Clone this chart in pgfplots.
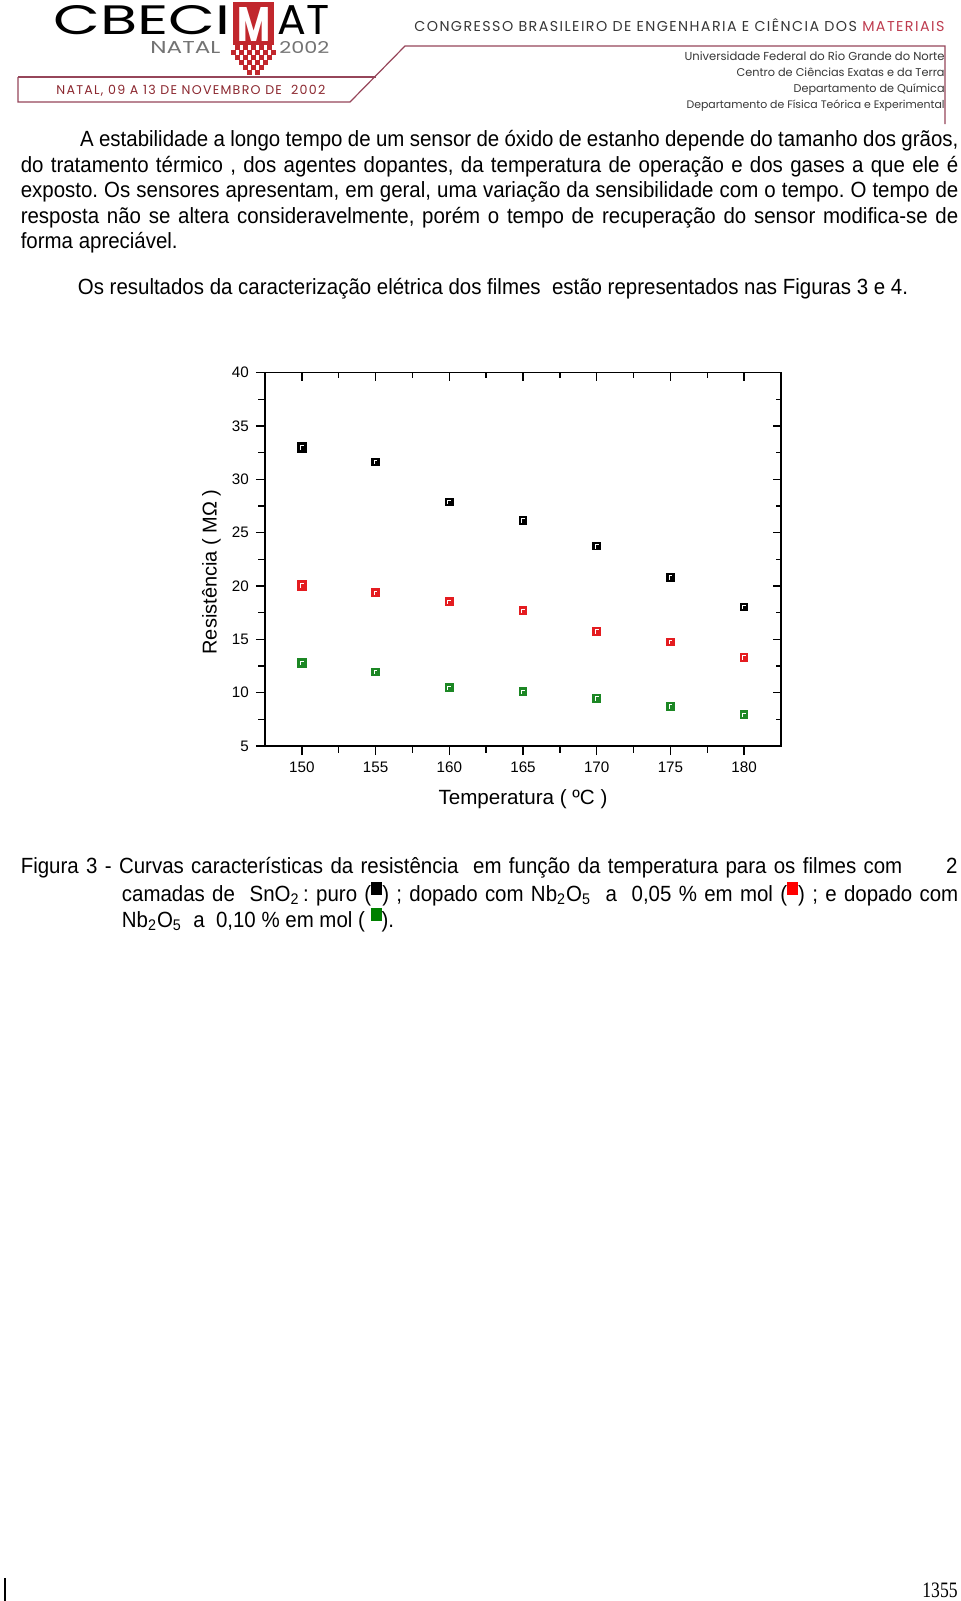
\documentclass[border=0pt]{standalone}
\usepackage{fontspec}
\usepackage{graphicx}
\usepackage{xcolor}
\usepackage{pgfplots}
\pgfplotsset{compat=1.18}
\setmainfont[FakeStretch=0.93]{Liberation Sans}
\newfontfamily\chartfont{Liberation Sans}
\newfontfamily\hdrfont{Poppins}
\newfontfamily\hdrlsp[LetterSpace=10]{Poppins}
\newfontfamily\pnfont[FakeStretch=0.8]{Liberation Serif}
\newdimen\PX \PX=0.5pt
\definecolor{logored}{RGB}{193,39,45}
\definecolor{natred}{RGB}{140,40,48}
\definecolor{matred}{RGB}{190,60,80}
\definecolor{boxline}{RGB}{150,70,90}
\definecolor{hdrgray}{RGB}{55,55,55}
\definecolor{mkred}{RGB}{228,28,32}
\definecolor{mkgreen}{RGB}{28,135,36}
\definecolor{capgreen}{RGB}{0,128,0}
\definecolor{capred}{RGB}{255,0,0}
\newcommand\bodyfont{\frenchspacing\fontsize{11pt}{13pt}\selectfont}
\newcommand\sqb[1]{\raisebox{3pt}{\textcolor{#1}{\rule{5.5pt}{6.5pt}}}}
\pgfdeclareplotmark{osq}{%
  \pgfpathrectangle{\pgfqpoint{-\pgfplotmarksize}{-\pgfplotmarksize}}{\pgfqpoint{2\pgfplotmarksize}{2\pgfplotmarksize}}%
  \pgfusepathqfillstroke
  \pgfsetstrokecolor{white}\pgfsetlinewidth{0.45pt}%
  \pgfpathmoveto{\pgfqpoint{-0.3\pgfplotmarksize}{-0.5\pgfplotmarksize}}%
  \pgfpathlineto{\pgfqpoint{-0.3\pgfplotmarksize}{0.3\pgfplotmarksize}}%
  \pgfpathlineto{\pgfqpoint{0.4\pgfplotmarksize}{0.3\pgfplotmarksize}}%
  \pgfusepathqstroke
}
\begin{document}
\begin{tikzpicture}
\begin{scope}[x=0.5pt,y=-0.5pt]
\fill[white] (0,0) rectangle (960,1601);
\path[use as bounding box] (0,0) rectangle (960,1601);
% ---- header logo
\node[anchor=base west, inner sep=0] at (53,34) {\resizebox{177\PX}{29\PX}{\hdrfont CBECI}};
\fill[logored] (233,2) rectangle (274,45);
\node[anchor=base, inner sep=0] at (253.5,41) {\resizebox{33\PX}{34\PX}{\hdrfont\bfseries\color{white}M}};
\node[anchor=base west, inner sep=0] at (277,34) {\resizebox{52\PX}{29\PX}{\hdrfont AT}};
\node[anchor=base west, inner sep=0] at (150,53) {\resizebox{70\PX}{12\PX}{\hdrfont\color{black!55}NATAL}};
\node[anchor=base west, inner sep=0] at (279,53) {\resizebox{50\PX}{12\PX}{\hdrfont\color{black!55}2002}};
\foreach \o in {-16,-8,0,8,16} \fill[logored] (253.5+\o-2.5,45) rectangle ++(5,5);
\foreach \o in {-20,-12,-4,4,12,20} \fill[logored] (253.5+\o-2.5,50) rectangle ++(5,5);
\foreach \o in {-16,-8,0,8,16} \fill[logored] (253.5+\o-2.5,55) rectangle ++(5,5);
\foreach \o in {-12,-4,4,12} \fill[logored] (253.5+\o-2.5,60) rectangle ++(5,5);
\foreach \o in {-8,0,8} \fill[logored] (253.5+\o-2.5,65) rectangle ++(5,5);
\foreach \o in {-4,4} \fill[logored] (253.5+\o-2.5,70) rectangle ++(5,4.5);
% ---- header lines
\draw[boxline, line width=0.6pt] (18,77) -- (376,77);
\draw[boxline, line width=0.6pt] (18,77) -- (18,102) -- (350,102) -- (405,46) -- (945,46) -- (945,124);
\node[anchor=base west, inner sep=0] at (56,94) {\resizebox{269\PX}{!}{\hdrlsp\color{natred}NATAL, 09 A 13 DE NOVEMBRO DE\ \ 2002}};
\node[anchor=base west, inner sep=0] at (414,31) {\resizebox{530\PX}{!}{\hdrlsp\color{hdrgray}CONGRESSO BRASILEIRO DE ENGENHARIA E CIÊNCIA DOS {\color{matred}MATERIAIS}}};
\node[anchor=base east, inner sep=0] at (945,60) {\resizebox{260\PX}{!}{\hdrfont\color{hdrgray}Universidade Federal do Rio Grande do Norte}};
\node[anchor=base east, inner sep=0] at (945,76) {\resizebox{208\PX}{!}{\hdrfont\color{hdrgray}Centro de Ciências Exatas e da Terra}};
\node[anchor=base east, inner sep=0] at (945,92) {\resizebox{151\PX}{!}{\hdrfont\color{hdrgray}Departamento de Química}};
\node[anchor=base east, inner sep=0] at (945,108) {\resizebox{258\PX}{!}{\hdrfont\color{hdrgray}Departamento de Física Teórica e Experimental}};
% ---- body text
\begin{scope}[every node/.style={anchor=base west, inner sep=0, font=\bodyfont}]
\node at (79.7,146) {\makebox[439.2pt][s]{A estabilidade a longo tempo de um sensor de óxido de estanho depende do tamanho dos grãos,}};
\node at (20.4,172) {\makebox[468.8pt][s]{do tratamento térmico , dos agentes dopantes, da temperatura de operação e dos gases a que ele é}};
\node at (20.4,197.5) {\makebox[468.8pt][s]{exposto. Os sensores apresentam, em geral, uma variação da sensibilidade com o tempo. O tempo de}};
\node at (20.4,223) {\makebox[468.8pt][s]{resposta não se altera consideravelmente, porém o tempo de recuperação do sensor modifica-se de}};
\node at (20.4,248) {forma apreciável.};
\node at (77.5,294) {Os resultados da caracterização elétrica dos filmes\ \ estão representados nas Figuras 3 e 4.};
% ---- caption
\node at (20.4,873) {\makebox[440.8pt][s]{Figura 3 - Curvas características da resistência\ \ em função da temperatura para os filmes com}};
\node[anchor=base east] at (958,873) {2};
\node at (121.5,901) {\makebox[418.2pt][s]{camadas de\ \ SnO\textsubscript{2}\,: puro (\sqb{black}) ; dopado com Nb\textsubscript{2}O\textsubscript{5}\ \ a\ \ 0,05 \% em mol (\sqb{capred}) ; e dopado com}};
\node at (121.5,927) {Nb\textsubscript{2}O\textsubscript{5}\ \ a\ \ 0,10 \% em mol ( \sqb{capgreen}).};
\end{scope}
% ---- page number
\node[anchor=base east, inner sep=0] at (958,1597) {\pnfont\fontsize{11pt}{13pt}\selectfont 1355};
\draw[line width=0.6pt] (5,1578) -- (5,1601);
\end{scope}

% ---- chart
\begin{axis}[
  at={(132.5pt,-373pt)}, anchor=south west,
  scale only axis, width=258pt, height=186.65pt,
  xmin=147.5, xmax=182.5, ymin=5, ymax=40,
  xtick={150,155,...,180}, ytick={5,10,...,40},
  minor x tick num=1, minor y tick num=1,
  tick align=outside, xtick pos=left, ytick pos=left,
  major tick length=4.6pt, minor tick length=3.3pt,
  axis line style={line width=0.65pt},
  every tick/.style={line width=0.65pt, black},
  /pgf/number format/assume math mode=true,
  ticklabel style={font=\chartfont\fontsize{7.6pt}{9pt}\selectfont},
  xlabel={Temperatura ( ºC )},
  ylabel={Resistência ( MΩ )},
  xlabel style={at={(axis description cs:0.5,-0.142)}, anchor=center, font=\chartfont\fontsize{10.3pt}{12pt}\selectfont},
  ylabel style={at={(axis description cs:-0.104,0.466)}, anchor=center, font=\chartfont\fontsize{10pt}{12pt}\selectfont},
]
\addplot[only marks, mark=osq, mark size=2.4pt, color=black] coordinates {
  (150,33.0) (155,31.65) (160,27.88) (165,26.17) (170,23.74) (175,20.81) (180,18.04)};
\addplot[only marks, mark=osq, mark size=2.4pt, color=mkred] coordinates {
  (150,20.06) (155,19.38) (160,18.54) (165,17.69) (170,15.76) (175,14.77) (180,13.33)};
\addplot[only marks, mark=osq, mark size=2.4pt, color=mkgreen] coordinates {
  (150,12.80) (155,11.96) (160,10.47) (165,10.12) (170,9.47) (175,8.72) (180,7.94)};
\end{axis}
\begin{axis}[
  at={(132.5pt,-373pt)}, anchor=south west,
  scale only axis, width=258pt, height=186.65pt,
  xmin=147.5, xmax=182.5, ymin=5, ymax=40,
  xtick={150,155,...,180}, ytick={5,10,...,40},
  minor x tick num=1, minor y tick num=1,
  tick align=inside, xtick pos=right, ytick pos=right,
  major tick length=4pt, minor tick length=2.4pt,
  axis line style={line width=0.65pt},
  every tick/.style={line width=0.65pt, black},
  xticklabels={}, yticklabels={},
]
\end{axis}
\end{tikzpicture}
\end{document}
